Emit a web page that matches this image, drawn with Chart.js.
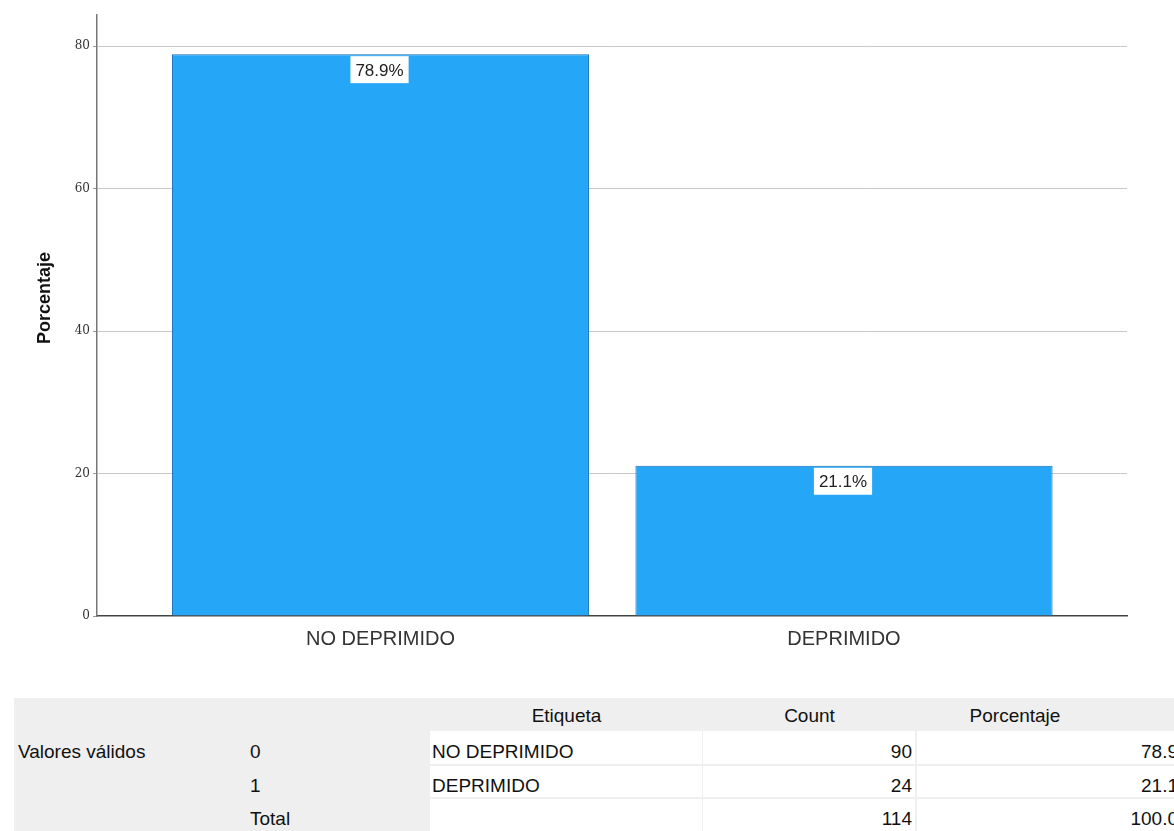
<!DOCTYPE html>
<html>
<head>
<meta charset="utf-8">
<script src="https://cdn.jsdelivr.net/npm/chart.js@4.4.1/dist/chart.umd.min.js"></script>
<style>
  html, body { margin: 0; padding: 0; background: #fff; overflow: hidden; }
  body { width: 1174px; height: 831px; position: relative; font-family: "Liberation Sans", Arial, sans-serif; }
  #wrap { position: absolute; left: 0; top: 0; width: 1174px; height: 680px; }
  .cell { position: absolute; font-size: 19px; color: #111; white-space: nowrap; overflow: hidden; }
  .gray { background: #efefef; }
  .white { background: #fff; }
</style>
</head>
<body>
<div id="wrap"><canvas id="chart"></canvas></div>
<div id="table"></div>
<script>
// chart data
const categories = ['NO DEPRIMIDO', 'DEPRIMIDO'];
const percentages = [78.9, 21.1];
const percentLabels = ['78.9%', '21.1%'];
const yTicks = [0, 20, 40, 60, 80];

// frequency table data
const codes = ['0', '1', 'Total'];
const tableLabels = ['NO DEPRIMIDO', 'DEPRIMIDO', ''];
const counts = [90, 24, 114];
const tablePercents = ['78.9', '21.1', '100.0'];

const barBlue = 'rgb(38,166,246)';

// white boxes with percentage just under each bar top
const barLabelPlugin = {
  id: 'barLabels',
  afterDatasetsDraw(chart) {
    const ctx = chart.ctx;
    chart.getDatasetMeta(0).data.forEach((bar, i) => {
      const txt = percentLabels[i];
      ctx.save();
      ctx.font = '17px "Liberation Sans", Arial, sans-serif';
      const w = ctx.measureText(txt).width + 10;
      const top = bar.y + 2;
      ctx.fillStyle = '#ffffff';
      ctx.fillRect(bar.x - w / 2 - 1, top, w, 27);
      ctx.fillStyle = '#222';
      ctx.textAlign = 'center';
      ctx.textBaseline = 'middle';
      ctx.fillText(txt, bar.x - 1, top + 15);
      ctx.restore();
    });
  }
};

// rotated y title, placed by hand like the SPSS output
const yTitlePlugin = {
  id: 'yTitle',
  afterDraw(chart) {
    const ctx = chart.ctx;
    ctx.save();
    ctx.translate(45, 298);
    ctx.rotate(-Math.PI / 2);
    ctx.font = 'bold 18px "Liberation Sans", Arial, sans-serif';
    ctx.fillStyle = '#111';
    ctx.textAlign = 'center';
    ctx.textBaseline = 'middle';
    ctx.fillText('Porcentaje', 0, 0);
    ctx.restore();
  }
};

new Chart(document.getElementById('chart'), {
  type: 'bar',
  data: {
    datasets: [{
      label: 'Porcentaje',
      data: percentages.map((v, i) => ({ x: i, y: v })),
      backgroundColor: barBlue,
      borderColor: 'rgb(20,110,180)',
      borderWidth: 1,
      barPercentage: 0.9,
      categoryPercentage: 1.0
    }]
  },
  options: {
    responsive: true,
    maintainAspectRatio: false,
    animation: false,
    layout: { padding: { left: 0, right: 47, top: 15, bottom: 0 } },
    plugins: { legend: { display: false }, tooltip: { enabled: false } },
    scales: {
      x: {
        type: 'linear',
        offset: false,
        min: -0.6117,
        max: 1.6106,
        afterBuildTicks: (scale) => { scale.ticks = [{ value: 0 }, { value: 1 }]; },
        afterFit: (scale) => { scale.height = 64; },
        grid: { display: false, drawTicks: false, offset: false },
        border: { display: true, color: '#444', width: 1.5 },
        ticks: {
          padding: 11,
          color: '#333',
          font: { size: 20, family: '"Liberation Sans", Arial, sans-serif' },
          callback: (v) => categories[v]
        }
      },
      y: {
        min: 0,
        max: 84.4,
        afterBuildTicks: (scale) => { scale.ticks = yTicks.map(v => ({ value: v })); },
        afterFit: (scale) => { scale.width = 97; },
        grid: {
          color: (c) => c.tick && c.tick.value === 0 ? 'rgba(0,0,0,0)' : '#c8c8c8',
          tickLength: 4,
          tickColor: '#999'
        },
        border: { display: true, color: '#777', width: 1.5 },
        ticks: {
          padding: 3,
          color: '#333',
          font: { size: 12, family: '"DejaVu Serif", serif' }
        }
      }
    }
  },
  plugins: [barLabelPlugin, yTitlePlugin]
});

// frequency table under the chart
const table = document.getElementById('table');
function addCell(x, y, w, h, text, cls, align, pad, shift) {
  const d = document.createElement('div');
  d.className = 'cell ' + cls;
  d.style.left = x + 'px';
  d.style.top = y + 'px';
  d.style.width = w + 'px';
  d.style.height = h + 'px';
  d.style.lineHeight = (h + 2 * (shift || 0)) + 'px';
  d.style.textAlign = align;
  d.style.boxSizing = 'border-box';
  if (align === 'right') d.style.paddingRight = pad + 'px';
  else d.style.paddingLeft = pad + 'px';
  d.textContent = text;
  table.appendChild(d);
}
// gray backdrop of the whole table
addCell(14, 698, 1200, 133, '', 'gray', 'left', 0);
// header
addCell(430, 700, 273, 32, 'Etiqueta', '', 'center', 0);
addCell(703, 700, 213, 32, 'Count', '', 'center', 0);
addCell(917, 700, 196, 32, 'Porcentaje', '', 'center', 0);
addCell(14, 736, 230, 32, 'Valores válidos', '', 'left', 4);
const rowTops = [731, 766, 799];
const rowHeights = [33, 31, 32];
codes.forEach((code, i) => {
  const t = rowTops[i], h = rowHeights[i];
  addCell(246, t, 150, h, code, '', 'left', 4, 4);
  addCell(430, t, 272, h, tableLabels[i], 'white', 'left', 2, 4);
  addCell(703, t, 212, h, String(counts[i]), 'white', 'right', 3, 4);
  addCell(917, t, 263, h, tablePercents[i], 'white', 'right', 2, 4);
});
</script>
</body>
</html>
